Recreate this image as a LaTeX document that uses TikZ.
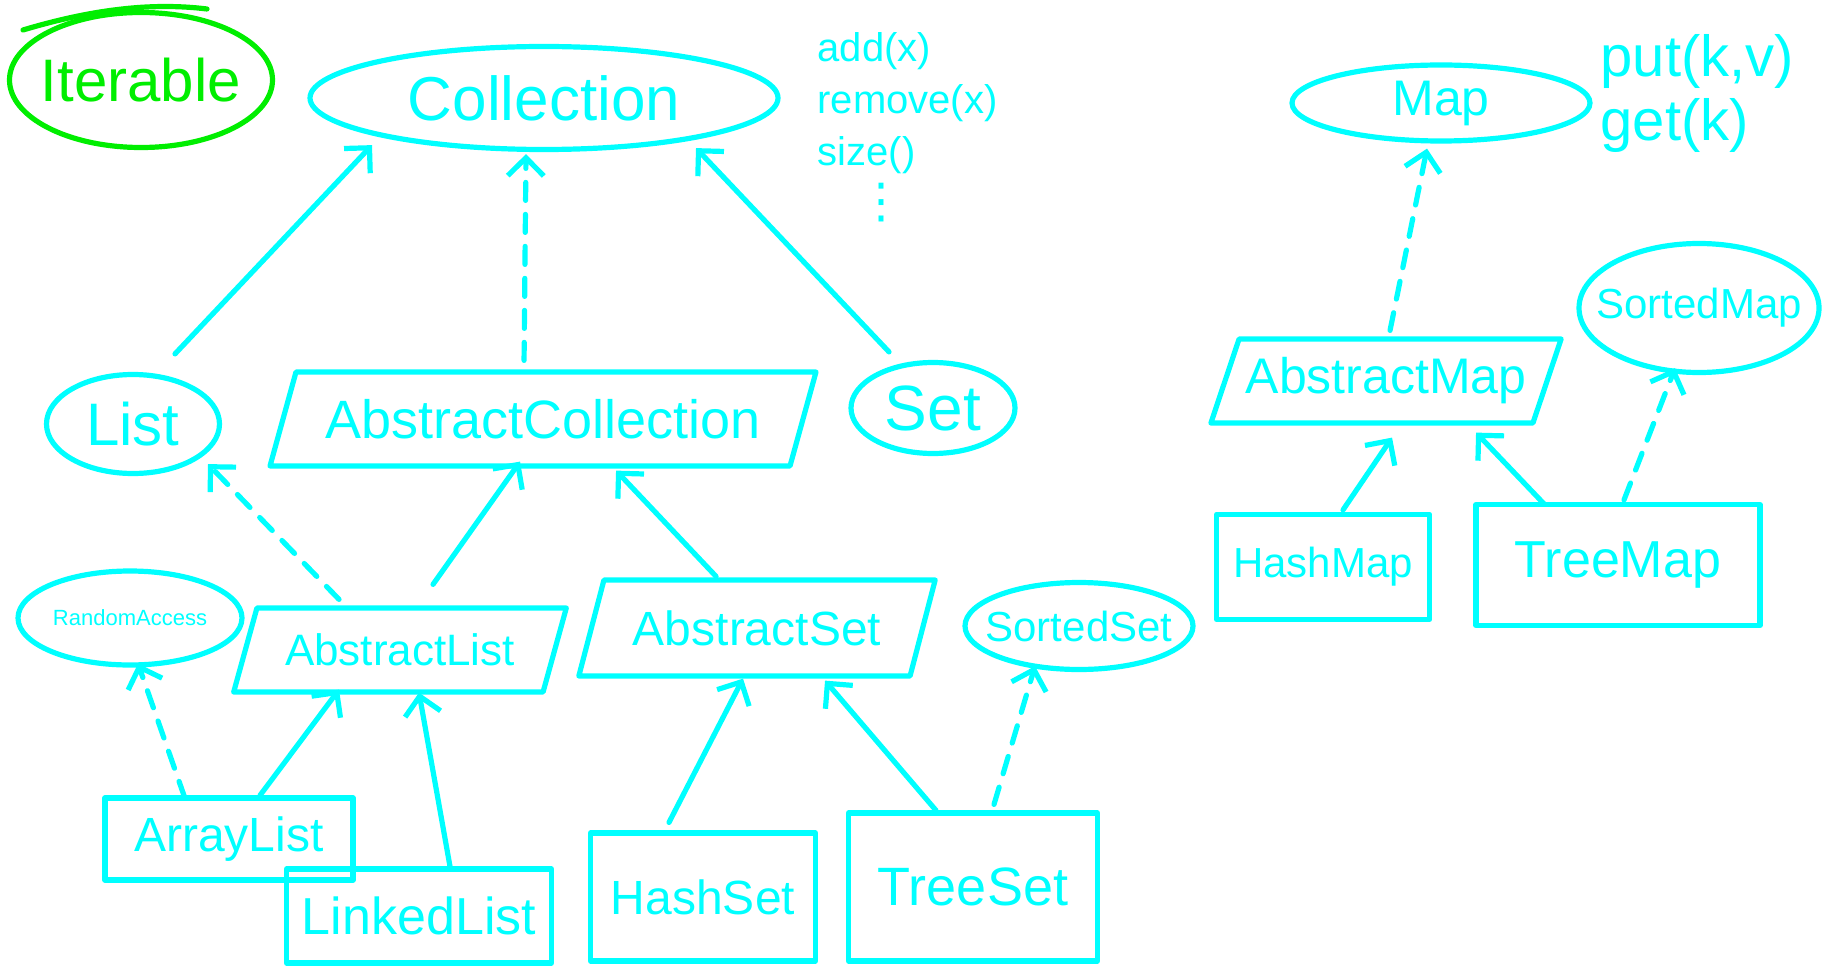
\documentclass[tikz,border=0pt]{standalone}
\usepackage{fontspec}
\setmainfont{Liberation Sans}
\newfontfamily\dotsfont{DejaVu Sans}
\usetikzlibrary{arrows.meta,shapes.geometric,positioning}

\definecolor{pen}{RGB}{0,255,255}
\definecolor{marker}{RGB}{0,238,0}
\newcommand{\penfont}[1]{\fontsize{#1}{#1}\selectfont}

\begin{document}
\begin{tikzpicture}[
		x=0.5pt, y=-0.5pt,
		line width=2.6pt, line cap=round, line join=round,
		iface/.style={ellipse, draw=pen, text=pen, inner sep=0pt},
		abstr/.style={trapezium, trapezium left angle=60, trapezium right angle=120, trapezium stretches=true, draw=pen, text=pen, inner sep=0pt},
		cls/.style={rectangle, draw=pen, text=pen, inner sep=0pt},
		arrow/.style={draw=pen, -{Straight Barb[length=9pt,width=18pt]}},
		impl/.style={arrow, dash pattern=on 9pt off 7pt},
	]
		\useasboundingbox (0,0) rectangle (1834,968);

		\node (iter) [iface, draw=marker, text=marker, minimum width=131.5pt, minimum height=67.5pt, inner xsep=-4pt, font=\penfont{30}] at (141,80) {Iterable};
		\draw[marker] (23,30) .. controls (90,10) and (150,2) .. (207,9);

		\node (coll) [iface, minimum width=234pt, minimum height=51.5pt, font=\penfont{31}] at (544,98) {Collection};
		\node (ops) [anchor=north west, align=left, text=pen, inner sep=0pt, font=\fontsize{20}{26}\selectfont] at (815,30) {add(x)\\remove(x)\\size()\\\hspace{1.0em}{\dotsfont\fontsize{24}{26}\selectfont ⋮}};
		\node (map) [iface, minimum width=149pt, minimum height=38pt, font=\penfont{25}] at (1441,103) {Map};
		\node (mops) [anchor=north west, align=left, text=pen, inner sep=0pt, font=\fontsize{29}{32}\selectfont] at (1598,32) {put(k,v)\\get(k)};

		\node (list) [iface, minimum width=86.5pt, minimum height=49.5pt, font=\penfont{30}] at (133,424) {List};
		\node (acoll) [abstr, minimum width=273.5pt, minimum height=47pt, font=\penfont{27}] at (543,419) {AbstractCollection};
		\node (set) [iface, minimum width=82pt, minimum height=45.5pt, font=\penfont{32}] at (933,408) {Set};

		\node (ra) [iface, minimum width=112pt, minimum height=47pt, font=\penfont{11}] at (130,618) {RandomAccess};
		\node (alist) [abstr, minimum width=166.5pt, minimum height=42pt, font=\penfont{22}] at (400,650) {AbstractList};
		\node (aset) [abstr, minimum width=178.5pt, minimum height=48pt, font=\penfont{24}] at (757,628) {AbstractSet};
		\node (sset) [iface, minimum width=114pt, minimum height=43.5pt, inner xsep=-7pt, font=\penfont{21}] at (1079,626) {SortedSet};

		\node (arrl) [cls, minimum width=124pt, minimum height=41pt, font=\penfont{24}] at (229,839) {ArrayList};
		\node (linkl) [cls, minimum width=132.5pt, minimum height=47pt, font=\penfont{26}] at (419,916) {LinkedList};
		\node (hset) [cls, minimum width=112.5pt, minimum height=64pt, font=\penfont{24}] at (703,897) {HashSet};
		\node (tset) [cls, minimum width=124.5pt, minimum height=74pt, font=\penfont{27}] at (973,887) {TreeSet};

		\node (amap) [abstr, minimum width=175.5pt, minimum height=42pt, font=\penfont{25}] at (1386,381) {AbstractMap};
		\node (smap) [iface, minimum width=120pt, minimum height=64.5pt, inner xsep=-10pt, font=\penfont{21}] at (1699,308) {SortedMap};
		\node (hmap) [cls, minimum width=106.5pt, minimum height=52.5pt, font=\penfont{21}] at (1323,567) {HashMap};
		\node (tmap) [cls, minimum width=142pt, minimum height=60.5pt, font=\penfont{26}] at (1618,565) {TreeMap};

		\draw[arrow] ([shift={(42,-18)}]list.north) -- ([shift={(-172,-7)}]coll.south);
		\draw[impl] ([shift={(-19,-9)}]acoll.north) -- ([shift={(-18,2)}]coll.south);
		\draw[arrow] ([shift={(-44,-8)}]set.north) -- ([shift={(152,-4)}]coll.south);

		\draw[impl] ([shift={(-61,-6)}]alist.north) -- ([shift={(75,-12)}]list.south);
		\draw[arrow] ([shift={(33,-21)}]alist.north) -- ([shift={(-23,-7)}]acoll.south);
		\draw[arrow] ([shift={(-41,-1)}]aset.north) -- ([shift={(73,2)}]acoll.south);

		\draw[impl] ([shift={(-44,3)}]arrl.north) -- ([shift={(8,-4)}]ra.south);
		\draw[arrow] ([shift={(31,0)}]arrl.north) -- ([shift={(-61,-5)}]alist.south);
		\draw[arrow] ([shift={(31,0)}]linkl.north) -- ([shift={(19,-2)}]alist.south);
		\draw[arrow] ([shift={(-34,-8)}]hset.north) -- ([shift={(-14,0)}]aset.south);
		\draw[arrow] ([shift={(-37,0)}]tset.north) -- ([shift={(68,2)}]aset.south);
		\draw[impl] ([shift={(21,-6)}]tset.north) -- ([shift={(-44,-6)}]sset.south);

		\draw[impl] ([shift={(4,-6)}]amap.north) -- ([shift={(-14,5)}]map.south);
		\draw[arrow] ([shift={(20,-2)}]hmap.north) -- ([shift={(6,12)}]amap.south);
		\draw[arrow] ([shift={(-74,2)}]tmap.north) -- ([shift={(90,7)}]amap.south);
		\draw[impl] ([shift={(6,-2)}]tmap.north) -- ([shift={(-24,-7)}]smap.south);
	\end{tikzpicture}
\end{document}
